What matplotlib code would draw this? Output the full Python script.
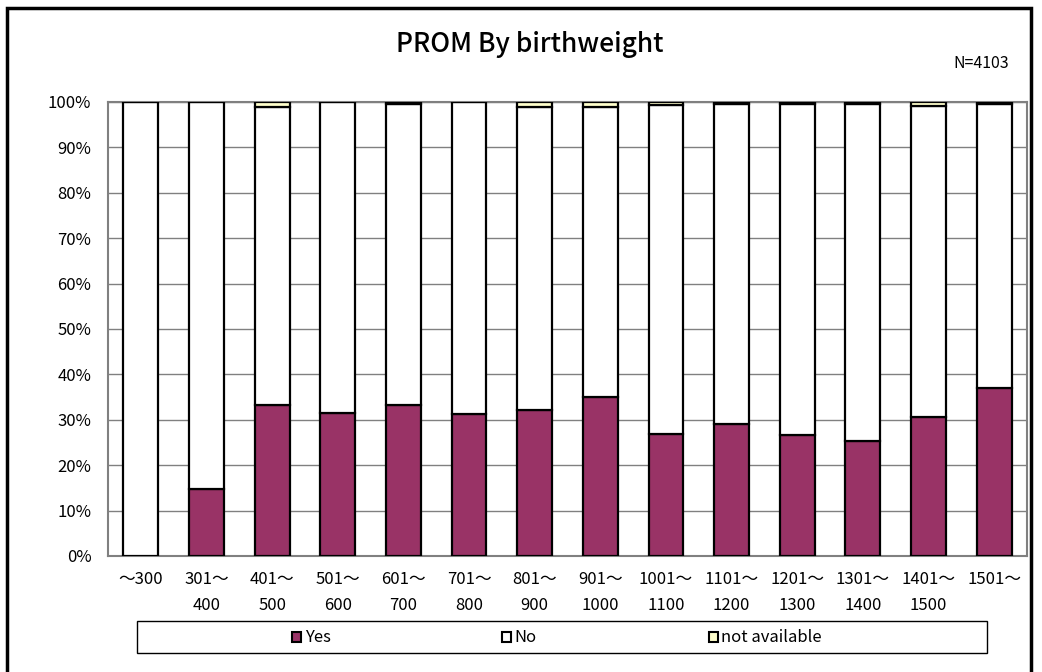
import matplotlib
matplotlib.use("Agg")
import matplotlib.pyplot as plt
from matplotlib.patches import Rectangle, Patch
import numpy as np

plt.rcParams['font.family'] = ['Noto Sans CJK JP', 'DejaVu Sans']

categories = ["～300", "301～\n400", "401～\n500", "501～\n600", "601～\n700", "701～\n800",
              "801～\n900", "901～\n1000", "1001～\n1100", "1101～\n1200", "1201～\n1300",
              "1301～\n1400", "1401～\n1500", "1501～"]
yes = [0.0, 14.7, 33.3, 31.5, 33.3, 31.3, 32.2, 35.0, 26.9, 29.1, 26.7, 25.3, 30.6, 37.0]
na = [0.0, 0.0, 1.2, 0.0, 0.5, 0.0, 1.0, 1.0, 0.6, 0.5, 0.5, 0.5, 0.8, 0.5]
no = [100 - y - n for y, n in zip(yes, na)]

W, H = 1042, 672
fig = plt.figure(figsize=(W / 100, H / 100), dpi=100)
ax = fig.add_axes([108 / W, 1 - 556 / H, (1027 - 108) / W, (556 - 102) / H])

x = np.arange(len(categories))
bw = 0.53
kw = dict(width=bw, edgecolor='black', linewidth=1.6, zorder=3)
ax.bar(x, yes, color='#993366', **kw)
ax.bar(x, no, bottom=yes, color='white', **kw)
ax.bar(x, na, bottom=[a + b for a, b in zip(yes, no)], color='#FFFFCC', **kw)

ax.set_xlim(-0.5, len(categories) - 0.5)
ax.set_ylim(0, 100)
ax.set_yticks(np.arange(0, 101, 10))
ax.set_yticklabels([f"{v}%" for v in range(0, 101, 10)], fontsize=12)
ax.set_xticks(x)
ax.set_xticklabels(categories, fontsize=12, linespacing=1.65)
ax.tick_params(axis='x', length=0, pad=11)
ax.tick_params(axis='y', length=0, pad=12)
ax.yaxis.grid(True, color='#808080', linewidth=1.0, zorder=0)
for s in ax.spines.values():
    s.set_color('#808080')
    s.set_linewidth(1.5)

fig.text(530 / W, 1 - 44 / H, "PROM By birthweight", ha='center', va='center',
         fontsize=19, fontweight='medium')
fig.text(1009 / W, 1 - 63 / H, "N=4103", ha='right', va='center', fontsize=11.5)

# outer frame
fig.patches.append(Rectangle((7 / W, -0.1), (1031 - 7) / W, 1.1 - 8 / H,
                             transform=fig.transFigure, fill=False, edgecolor='black',
                             linewidth=2.5))

# legend box
fig.patches.append(Rectangle((137 / W, 1 - 653 / H), (987 - 137) / W, 32 / H,
                             transform=fig.transFigure, fill=False, edgecolor='black',
                             linewidth=1.0))
handles = [Patch(facecolor='#993366', edgecolor='black', linewidth=1.5),
           Patch(facecolor='white', edgecolor='black', linewidth=1.5),
           Patch(facecolor='#FFFFCC', edgecolor='black', linewidth=1.5)]
leg = fig.legend(handles, ["Yes", "No", "not available"], loc='center',
                 bbox_to_anchor=(557 / W, 1 - 638 / H),
                 ncol=3, fontsize=12, frameon=False,
                 handlelength=0.55, handleheight=0.55, handletextpad=0.2, borderpad=0.0,
                 columnspacing=10.3)

fig.savefig("out.png", dpi=100)
